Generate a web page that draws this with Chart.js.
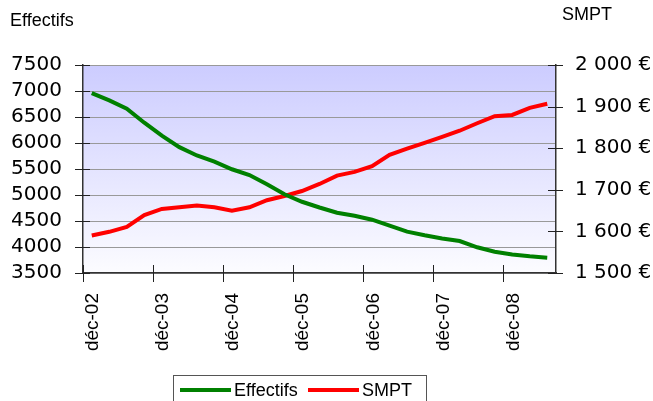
<!DOCTYPE html>
<html lang="fr">
<head>
  <meta charset="UTF-8" />
  <title>Effectifs et SMPT</title>
  <script src="https://cdn.jsdelivr.net/npm/chart.js@4.4.0/dist/chart.umd.min.js"></script>
  <style>
    html, body { margin: 0; padding: 0; background: #fff; }
    #wrap { width: 653px; height: 401px; }
  </style>
</head>
<body>
  <div id="wrap"><canvas id="chart" width="653" height="401"></canvas></div>

  <script>
    // quarterly points (year-month)
    const quarters = [
      '2003-01', '2003-04', '2003-07', '2003-10',
      '2004-01', '2004-04', '2004-07', '2004-10',
      '2005-01', '2005-04', '2005-07', '2005-10',
      '2006-01', '2006-04', '2006-07', '2006-10',
      '2007-01', '2007-04', '2007-07', '2007-10',
      '2008-01', '2008-04', '2008-07', '2008-10',
      '2009-01', '2009-04', '2009-07'
    ];
    const effectifs = [
      6960, 6820, 6660, 6390, 6140, 5920, 5760, 5640, 5495, 5385,
      5205, 5015, 4870, 4760, 4660, 4600, 4525, 4410, 4295, 4225,
      4165, 4115, 3995, 3910, 3855, 3820, 3795
    ];
    const smpt = [
      1590, 1599, 1611, 1639, 1654, 1658, 1662, 1658, 1650, 1658,
      1675, 1685, 1697, 1714, 1734, 1743, 1757, 1784, 1799, 1813,
      1827, 1842, 1860, 1877, 1880, 1897, 1907
    ];
    const xTickLabels = ['déc-02', 'déc-03', 'déc-04', 'déc-05', 'déc-06', 'déc-07', 'déc-08'];
    const xTickMonths = [0, 12, 24, 36, 48, 60, 72];

    // months since dec 2002, point sits in the middle of its month
    function monthPos(q) {
      const [y, m] = q.split('-').map(Number);
      return (y - 2002) * 12 + (m - 12) + 0.5;
    }

    function euro(v) {
      return Math.floor(v / 1000) + ' ' + String(v % 1000).padStart(3, '0') + ' €';
    }

    const bgPlugin = {
      id: 'bg',
      beforeDraw(chart) {
        const { ctx, chartArea: a } = chart;
        const g = ctx.createLinearGradient(0, a.top, 0, a.bottom);
        g.addColorStop(0, 'rgb(204,204,255)');
        g.addColorStop(1, 'rgb(252,252,255)');
        ctx.save();
        ctx.fillStyle = g;
        ctx.fillRect(a.left, a.top, a.right - a.left, a.bottom - a.top);
        ctx.restore();
      }
    };

    // crossing tick marks, header labels, legend
    const extrasPlugin = {
      id: 'extras',
      afterDraw(chart) {
        const { ctx, chartArea: a, scales } = chart;
        ctx.save();
        ctx.strokeStyle = '#222';
        ctx.lineWidth = 1;
        ctx.beginPath();
        scales.y.ticks.forEach(t => {
          const y = Math.round(scales.y.getPixelForValue(t.value)) + 0.5;
          ctx.moveTo(a.left - 8, y); ctx.lineTo(a.left + 7, y);
        });
        scales.y2.ticks.forEach(t => {
          const y = Math.round(scales.y2.getPixelForValue(t.value)) + 0.5;
          ctx.moveTo(a.right - 8, y); ctx.lineTo(a.right + 7, y);
        });
        scales.x.ticks.forEach(t => {
          const x = Math.round(scales.x.getPixelForValue(t.value)) + 0.5;
          ctx.moveTo(x, a.bottom - 8); ctx.lineTo(x, a.bottom + 9);
        });
        ctx.stroke();

        ctx.fillStyle = '#000';
        ctx.font = '18px "Liberation Sans", Arial, sans-serif';
        ctx.textBaseline = 'alphabetic';
        ctx.fillText('Effectifs', 10, 26);
        ctx.fillText('SMPT', 562, 20);

        // legend
        ctx.strokeStyle = '#555';
        ctx.strokeRect(173.5, 375.5, 253, 40);
        ctx.lineWidth = 4;
        ctx.beginPath();
        ctx.strokeStyle = '#008000';
        ctx.moveTo(180, 390); ctx.lineTo(231, 390);
        ctx.stroke();
        ctx.beginPath();
        ctx.strokeStyle = '#ff0000';
        ctx.moveTo(308, 390); ctx.lineTo(359, 390);
        ctx.stroke();
        ctx.fillText('Effectifs', 234, 396);
        ctx.fillText('SMPT', 362, 396);
        ctx.restore();
      }
    };

    const ctx = document.getElementById('chart').getContext('2d');
    new Chart(ctx, {
      type: 'line',
      data: {
        datasets: [{
          label: 'Effectifs',
          data: quarters.map((q, i) => ({ x: monthPos(q), y: effectifs[i] })),
          borderColor: '#008000',
          borderWidth: 4,
          pointRadius: 0,
          yAxisID: 'y'
        }, {
          label: 'SMPT',
          data: quarters.map((q, i) => ({ x: monthPos(q), y: smpt[i] })),
          borderColor: '#ff0000',
          borderWidth: 4,
          pointRadius: 0,
          yAxisID: 'y2'
        }]
      },
      options: {
        responsive: false,
        animation: false,
        layout: { padding: { top: 65, left: 0, right: 0, bottom: 0 } },
        plugins: {
          legend: { display: false },
          tooltip: { enabled: false }
        },
        scales: {
          x: {
            type: 'linear',
            min: 0,
            max: 81,
            afterBuildTicks: s => { s.ticks = xTickMonths.map(v => ({ value: v })); },
            afterFit: s => { s.height = 128; },
            grid: { display: false, drawTicks: false },
            border: { display: true, color: '#333', width: 1.5 },
            ticks: {
              autoSkip: false,
              minRotation: 90,
              maxRotation: 90,
              padding: 20,
              labelOffset: 10,
              color: '#000',
              font: { family: '"Liberation Sans", Arial, sans-serif', size: 19 },
              callback: v => xTickLabels[xTickMonths.indexOf(v)]
            }
          },
          y: {
            position: 'left',
            min: 3500,
            max: 7500,
            afterFit: s => { s.width = 83; },
            grid: { color: '#999', lineWidth: 1, drawTicks: false },
            border: { display: true, color: '#333', width: 1.5 },
            ticks: {
              stepSize: 500,
              autoSkip: false,
              padding: 21,
              color: '#000',
              font: { family: '"DejaVu Sans", Verdana, sans-serif', size: 20 },
              callback: v => String(v)
            }
          },
          y2: {
            position: 'right',
            min: 1500,
            max: 2000,
            afterFit: s => { s.width = 97; },
            grid: { display: false, drawTicks: false },
            border: { display: true, color: '#333', width: 1.5 },
            ticks: {
              stepSize: 100,
              autoSkip: false,
              padding: 19,
              color: '#000',
              font: { family: '"DejaVu Sans", Verdana, sans-serif', size: 20 },
              callback: v => euro(v)
            }
          }
        }
      },
      plugins: [bgPlugin, extrasPlugin]
    });
  </script>
</body>
</html>
